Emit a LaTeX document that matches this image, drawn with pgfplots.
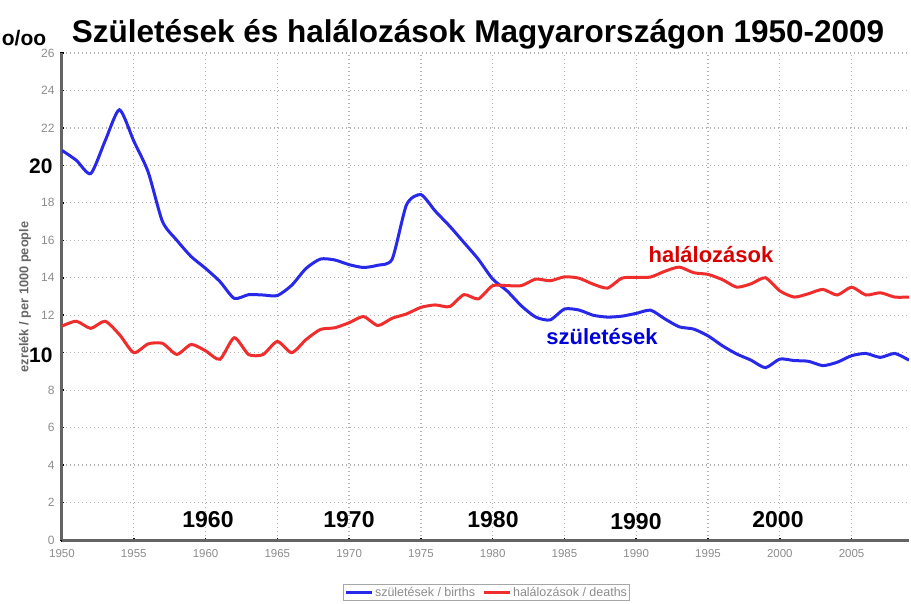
\documentclass[border=0pt]{standalone}
\usepackage{fontspec}
\setmainfont{Liberation Sans}
\usepackage{pgfplots}
\usepackage{pgfplotstable}
\pgfplotsset{compat=1.18}
\definecolor{birthblue}{RGB}{40,40,235}
\definecolor{deathred}{RGB}{240,45,45}
\definecolor{ticktext}{RGB}{140,140,140}
\definecolor{axisgray}{RGB}{100,100,100}

% births per 1000 people
\pgfplotstableread{
year rate
1950 20.80
1951 20.27
1952 19.56
1953 21.30
1954 22.97
1955 21.30
1956 19.65
1957 17.00
1958 16.00
1959 15.13
1960 14.50
1961 13.80
1962 12.90
1963 13.10
1964 13.08
1965 13.05
1966 13.60
1967 14.50
1968 15.00
1969 14.95
1970 14.70
1971 14.55
1972 14.67
1973 15.00
1974 17.90
1975 18.44
1976 17.56
1977 16.76
1978 15.88
1979 14.99
1980 13.93
1981 13.30
1982 12.50
1983 11.90
1984 11.75
1985 12.33
1986 12.28
1987 12.00
1988 11.90
1989 11.95
1990 12.10
1991 12.27
1992 11.80
1993 11.38
1994 11.26
1995 10.90
1996 10.37
1997 9.93
1998 9.60
1999 9.20
2000 9.66
2001 9.58
2002 9.54
2003 9.31
2004 9.49
2005 9.84
2006 9.96
2007 9.75
2008 9.96
2009 9.60
}\births

% deaths per 1000 people
\pgfplotstableread{
year rate
1950 11.42
1951 11.68
1952 11.30
1953 11.68
1954 10.97
1955 10.00
1956 10.47
1957 10.50
1958 9.91
1959 10.44
1960 10.10
1961 9.65
1962 10.80
1963 9.90
1964 9.90
1965 10.60
1966 10.00
1967 10.70
1968 11.24
1969 11.33
1970 11.60
1971 11.93
1972 11.45
1973 11.84
1974 12.07
1975 12.42
1976 12.55
1977 12.46
1978 13.10
1979 12.87
1980 13.58
1981 13.58
1982 13.58
1983 13.93
1984 13.84
1985 14.05
1986 13.98
1987 13.66
1988 13.45
1989 13.98
1990 14.02
1991 14.04
1992 14.35
1993 14.57
1994 14.27
1995 14.18
1996 13.90
1997 13.50
1998 13.68
1999 14.00
2000 13.30
2001 12.97
2002 13.15
2003 13.38
2004 13.08
2005 13.50
2006 13.08
2007 13.20
2008 12.97
2009 12.97
}\deaths

\begin{document}
\begin{tikzpicture}[x=1pt,y=1pt]
  \useasboundingbox (-62,-63) rectangle (849,540);
  \begin{axis}[
      at={(0,0)}, anchor=south west,
      scale only axis,
      width=847pt, height=487pt,
      xmin=1950, xmax=2009,
      ymin=0, ymax=26,
      xtick={1950,1955,...,2005},
      ytick={0,2,...,26},
      % 10 and 20 are covered by the large overlay numbers
      yticklabels={0,2,4,6,8,,12,14,16,18,,22,24,26},
      axis x line=bottom, axis y line=left,
      axis line style={-, line width=3pt, draw=axisgray},
      grid=major,
      major grid style={draw=gray!60, line width=1.3pt, dash pattern=on 1.3pt off 2.7pt},
      tick style={black, line width=1.5pt},
      major tick length=4pt,
      tick align=center,
      xticklabel style={font=\fontsize{11.5}{12}\selectfont, text=ticktext, yshift=-4pt},
      yticklabel style={font=\fontsize{12}{12}\selectfont, text=ticktext, xshift=-2pt},
      /pgf/number format/assume math mode=true,
      /pgf/number format/1000 sep={},
      legend columns=2,
      legend style={at={(0.5012,-0.1078)}, anchor=center,
        draw=gray!70, line width=0.8pt,
        font=\fontsize{12.5}{14}\selectfont, text=ticktext,
        inner sep=0.5pt,
        /tikz/every even column/.append style={column sep=5pt}},
      legend image code/.code={\draw[#1, line width=3pt] (0pt,0pt) -- (26pt,0pt);},
    ]
    \addplot[birthblue, line width=3pt, smooth, tension=0.4] table[x=year, y=rate] {\births};
    \addlegendentry{születések / births}
    \addplot[deathred, line width=3pt, smooth, tension=0.4] table[x=year, y=rate] {\deaths};
    \addlegendentry{halálozások / deaths}
  \end{axis}

  % title and overlay labels
  \node[anchor=base, font=\fontsize{31.5}{34}\bfseries] at (416,497)
    {Születések és halálozások Magyarországon 1950-2009};
  \node[anchor=base, font=\fontsize{21}{24}\bfseries] at (-38,494) {o/oo};
  \node[anchor=east, font=\fontsize{21}{24}\bfseries] at (-6,374) {20};
  \node[anchor=east, font=\fontsize{21}{24}\bfseries] at (-6,185) {10};
  \node[rotate=90, font=\fontsize{12.8}{14}\bfseries, text=gray!80!black] at (-37,243)
    {ezrelék / per 1000 people};
  \foreach \lab/\px/\py in {1960/146/20, 1970/287/20, 1980/431/20, 1990/574/18.5, 2000/716/20.5}
    \node[font=\fontsize{23}{26}\bfseries] at (\px,\py) {\lab};
  \node[font=\fontsize{22}{24}\bfseries, text=red!85!black] at (649,285) {halálozások};
  \node[font=\fontsize{22}{24}\bfseries, text=blue!85!black] at (540,203) {születések};
\end{tikzpicture}
\end{document}
